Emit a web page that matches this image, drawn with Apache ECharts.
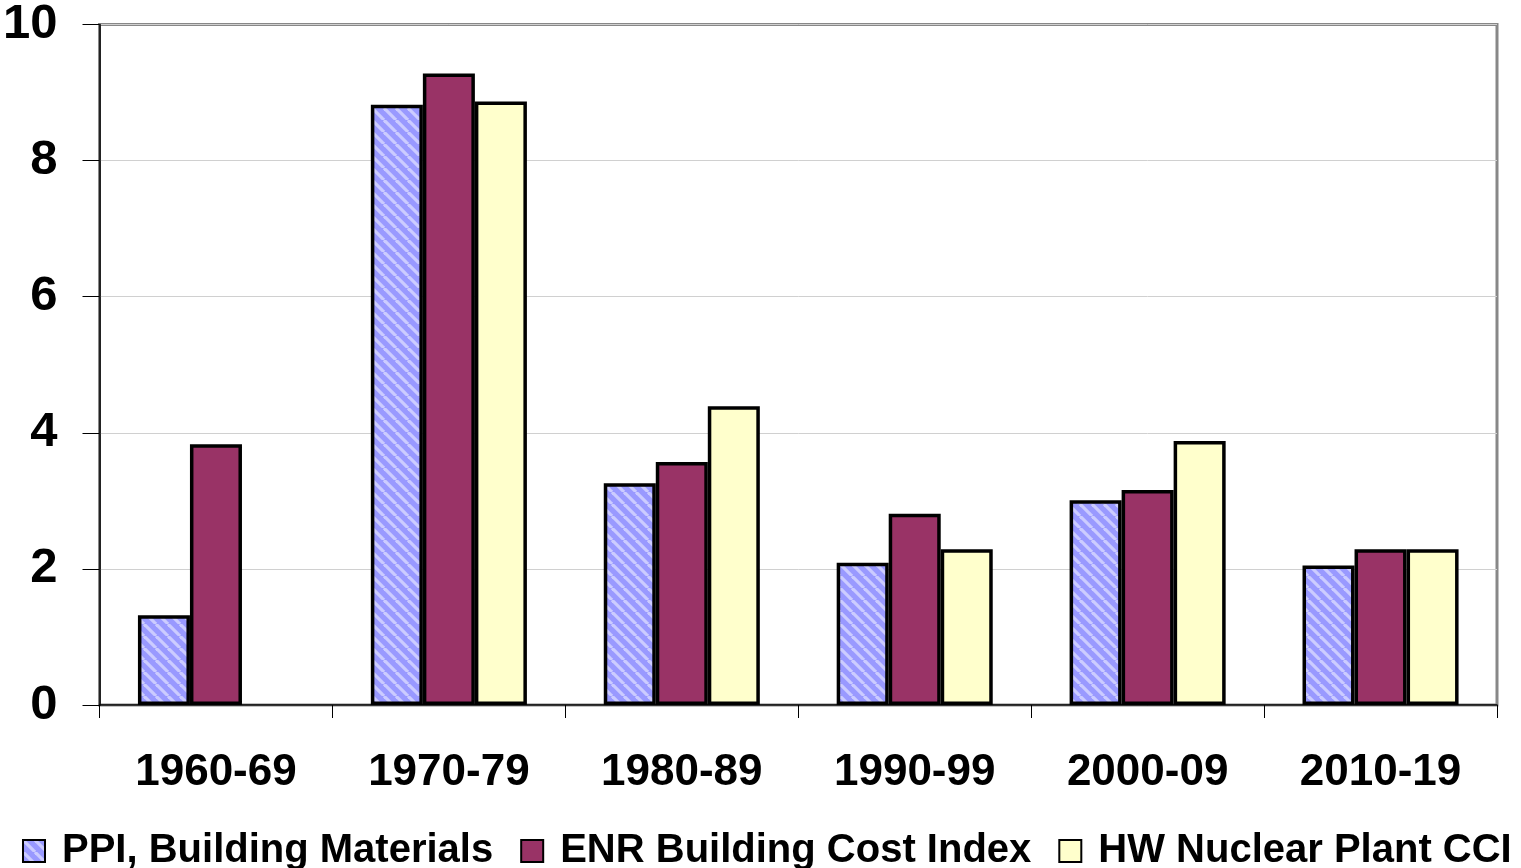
<!DOCTYPE html>
<html>
<head>
<meta charset="utf-8">
<script src="https://cdn.jsdelivr.net/npm/echarts@6/dist/echarts.min.js"></script>
<style>
  html, body { margin:0; padding:0; background:#fff; }
  #main { width:1521px; height:868px; }
</style>
</head>
<body>
<div id="main"></div>
<script>
var decades = ['1960-69', '1970-79', '1980-89', '1990-99', '2000-09', '2010-19'];
var ppiValues = [1.32, 8.82, 3.26, 2.09, 3.01, 2.05];
var enrValues = [3.83, 9.28, 3.57, 2.81, 3.16, 2.29];
var hwValues = [null, 8.87, 4.39, 2.29, 3.88, 2.29];
var seriesNames = ['PPI, Building Materials', 'ENR Building Cost Index', 'HW Nuclear Plant CCI'];

// diagonal stripe fill for the PPI bars
function stripePattern(){
	var c = document.createElement('canvas');
	c.width = 12; c.height = 12;
	var g = c.getContext('2d');
	g.fillStyle = '#9999ff';
	g.fillRect(0, 0, 12, 12);
	g.strokeStyle = '#ccccff';
	g.lineWidth = 3.2;
	for (var k = -12; k <= 12; k += 12) {
		g.beginPath();
		g.moveTo(k, 0);
		g.lineTo(k + 12, 12);
		g.stroke();
	}
	return { image: c, repeat: 'repeat' };
}

var font = '"Liberation Sans", Arial, sans-serif';
var myChart = echarts.init(document.getElementById('main'), null, { renderer: 'canvas' });

function barSeries(name, data, color){
	return {
		name: name,
		type: 'bar',
		data: data,
		barGap: '0%',
		barCategoryGap: '33%',
		itemStyle: { color: color, borderColor: '#000', borderWidth: 3.5 }
	};
}

myChart.setOption({
	animation: false,
	backgroundColor: '#fff',
	grid: {
		left: 97, right: 24, top: 22, bottom: 163,
		show: true, borderColor: '#888', borderWidth: 3
	},
	legend: {
		left: 22, top: 831, width: 1700, padding: 0,
		itemWidth: 22, itemHeight: 22, itemGap: 27,
		icon: 'rect',
		data: seriesNames,
		textStyle: { fontFamily: font, fontWeight: 'bold', fontSize: 40, color: '#000', padding: [0, 0, 0, 12] }
	},
	xAxis: {
		type: 'category',
		data: decades,
		axisLine: { lineStyle: { color: '#000', width: 1.5 } },
		axisTick: { show: true, length: 13, lineStyle: { color: '#000', width: 1 } },
		axisLabel: { fontFamily: font, fontWeight: 'bold', fontSize: 44, color: '#000', margin: 46 }
	},
	yAxis: {
		type: 'value',
		min: 0, max: 10, interval: 2,
		axisLine: { show: true, lineStyle: { color: '#000', width: 1.5 } },
		axisTick: { show: true, length: 17, lineStyle: { color: '#000', width: 1 } },
		splitLine: { lineStyle: { color: '#d0d0d0', width: 1 } },
		axisLabel: { fontFamily: font, fontWeight: 'bold', fontSize: 49, color: '#000', margin: 42 }
	},
	series: [
		barSeries(seriesNames[0], ppiValues, stripePattern()),
		barSeries(seriesNames[1], enrValues, '#993366'),
		barSeries(seriesNames[2], hwValues, '#ffffcc')
	]
});
</script>
</body>
</html>
